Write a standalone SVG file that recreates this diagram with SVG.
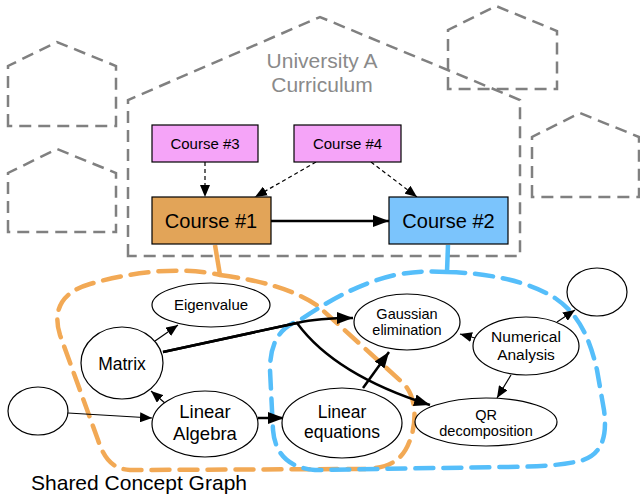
<svg xmlns="http://www.w3.org/2000/svg" width="640" height="500" viewBox="0 0 640 500">
<defs>
<style>
text{font-family:"Liberation Sans",Arial,sans-serif;fill:#000;text-anchor:middle}
.house{fill:none;stroke:#808080;stroke-width:2.5;stroke-dasharray:12 7}
.box{stroke:#000;stroke-width:1.2}
.pink{fill:#F5A4F8}
.node{fill:#fff;stroke:#000;stroke-width:1.2}
.dash{fill:none;stroke:#000;stroke-width:1.2;stroke-dasharray:4 3}
.thin{fill:none;stroke:#000;stroke-width:1.2}
.thick{fill:none;stroke:#000;stroke-width:2.5}
.blob{fill:none;stroke-width:4.5;stroke-dasharray:18 10;stroke-linecap:round}
</style>
<marker id="a" markerUnits="userSpaceOnUse" markerWidth="12" markerHeight="10" refX="12" refY="5" orient="auto"><path d="M0,0 L12,5 L0,10 z" fill="#000"/></marker>
<marker id="ab" markerUnits="userSpaceOnUse" markerWidth="16" markerHeight="12" refX="16" refY="6" orient="auto"><path d="M0,0 L16,6 L0,12 z" fill="#000"/></marker>
</defs>

<g id="houses">
<path class="house" d="M8,126 V66 L57,42 L116,66 V126 Z"/>
<path class="house" d="M8,232 V173 L57,149 L116,173 V232 Z"/>
<path class="house" d="M448,89 V30 L496,6 L557,31 V89 Z"/>
<path class="house" d="M532,197 V137 L580,113 L639,137 V197 Z"/>
<path class="house" d="M128,256 V100 L320,17 L520,100 V256 Z"/>
<text x="322" y="68" font-size="21" style="fill:#8a8a8a">University A</text>
<text x="322" y="92" font-size="21" style="fill:#8a8a8a">Curriculum</text>
</g>

<g id="blobs">
<path class="blob" stroke="#F2A955" d="M220,275 C260,280 295,290 318,306 L403,383 C418,398 416,425 410,440 C403,460 390,468 365,469 L130,470 C112,469 104,458 98,440 L60,335 C52,310 62,292 90,284 C130,272 180,266 220,275 Z"/>
<path class="blob" stroke="#55BEFA" d="M447,272 C490,273 530,282 555,298 C580,315 590,340 597,370 L604,410 C608,440 600,458 575,462 C555,466 530,467 500,467 L315,470 C290,468 275,455 273,430 L270,370 C270,345 278,328 300,320 C330,300 360,283 395,275 C415,271 430,271 447,272 Z"/>
<path fill="none" stroke="#F2A955" stroke-width="4.5" d="M215,245 L220,275"/>
<path fill="none" stroke="#55BEFA" stroke-width="4.5" d="M448,245 L447,272"/>
</g>

<g id="connectors">
<path class="dash" d="M205,162 L205,197" marker-end="url(#a)"/>
<path class="dash" d="M316,162 L255,197" marker-end="url(#a)"/>
<path class="dash" d="M371,162 L417,197" marker-end="url(#a)"/>
<path class="thick" d="M271,221 L389,221" marker-end="url(#ab)"/>
<path class="thin" d="M155,341 L178,325" marker-end="url(#a)"/>
<path class="thick" d="M163,352 L297,323 Q318,318 353,318" marker-end="url(#ab)"/>
<path class="thick" d="M163,352 L297,323 Q335,375 430,405" marker-end="url(#ab)"/>
<path class="thin" d="M166,404 L151,391" marker-end="url(#a)"/>
<path class="thin" d="M68,413 L152,418" marker-end="url(#a)"/>
<path class="thick" d="M258,418 L284,418" marker-end="url(#ab)"/>
<path class="thick" d="M363,388 L389,352" marker-end="url(#ab)"/>
<path class="thin" d="M475,338 L460,334" marker-end="url(#a)"/>
<path class="thin" d="M557,322 L575,310" marker-end="url(#a)"/>
<path class="thin" d="M511,375 L497,398" marker-end="url(#a)"/>
</g>

<g id="course3"><rect class="box pink" x="152" y="125" width="106" height="37"/><text x="205" y="149" font-size="15">Course #3</text></g>
<g id="course4"><rect class="box pink" x="294" y="125" width="107" height="37"/><text x="347.5" y="149" font-size="15">Course #4</text></g>
<g id="course1"><rect class="box" fill="#E2A458" x="152" y="197" width="119" height="47"/><text x="211" y="228" font-size="20">Course #1</text></g>
<g id="course2"><rect class="box" fill="#7BC4FC" x="389" y="197" width="119" height="47"/><text x="448.5" y="228" font-size="20">Course #2</text></g>

<g id="eigenvalue"><ellipse class="node" cx="211" cy="305" rx="59" ry="22"/><text x="211" y="310" font-size="15">Eigenvalue</text></g>
<g id="matrix"><ellipse class="node" cx="122" cy="363" rx="41" ry="36"/><text x="122" y="370" font-size="17.5">Matrix</text></g>
<g id="linear-algebra"><ellipse class="node" cx="205" cy="424" rx="53" ry="33"/><text x="205" y="418" font-size="18.5">Linear</text><text x="205" y="440" font-size="18.5">Algebra</text></g>
<g id="empty-left"><ellipse class="node" cx="38" cy="411" rx="30" ry="24"/></g>
<g id="linear-equations"><ellipse class="node" cx="342" cy="423" rx="60" ry="35"/><text x="342" y="418" font-size="17.5">Linear</text><text x="342" y="438" font-size="17.5">equations</text></g>
<g id="gaussian"><ellipse class="node" cx="407" cy="322" rx="53" ry="28"/><text x="407" y="319" font-size="14.5">Gaussian</text><text x="407" y="335" font-size="14.5">elimination</text></g>
<g id="numerical"><ellipse class="node" cx="526" cy="346" rx="53" ry="29"/><text x="526" y="342" font-size="15.5">Numerical</text><text x="526" y="360" font-size="15.5">Analysis</text></g>
<g id="empty-right"><ellipse class="node" cx="597" cy="292" rx="30" ry="24"/></g>
<g id="qr"><ellipse class="node" cx="486" cy="422" rx="71" ry="24"/><text x="486" y="420" font-size="14.5">QR</text><text x="486" y="436" font-size="14.5">decomposition</text></g>

<text x="139" y="490" font-size="21">Shared Concept Graph</text>
</svg>
